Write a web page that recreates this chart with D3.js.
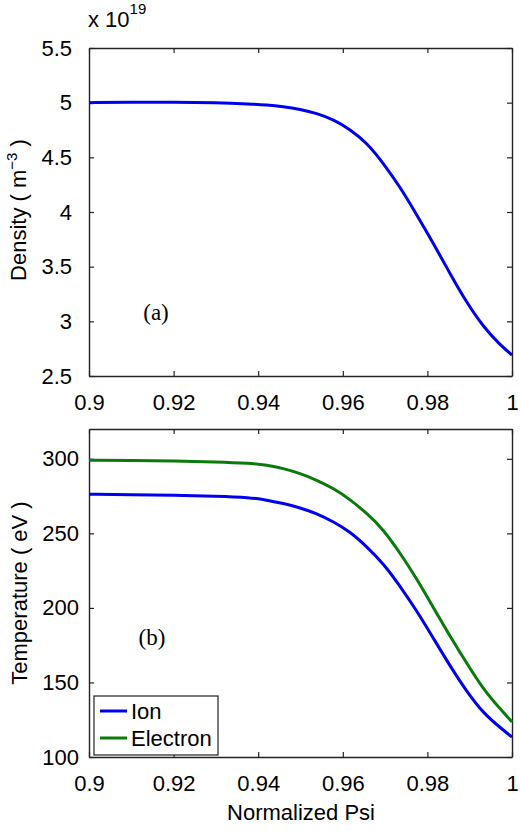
<!DOCTYPE html>
<html>
<head>
<meta charset="utf-8">
<script src="https://cdn.jsdelivr.net/npm/d3@7"></script>
<style>
  body { margin: 0; background: #fff; }
  svg text { font-family: "Liberation Sans", Arial, sans-serif; fill: #000; }
</style>
</head>
<body>
<div id="chart"></div>
<script>
const w = 520
const h = 831

// shared x values (normalized psi)
const psi = [0.90, 0.91, 0.92, 0.93, 0.9381, 0.9420, 0.9459, 0.9499, 0.9538, 0.9578, 0.9617, 0.9657,
    0.9696, 0.9735, 0.9775, 0.9814, 0.9853, 0.9893, 0.9932, 0.9972, 1.0]

// panel (a): density, in units of 1e19 m^-3
const density = [5.0, 5.003, 5.005, 5.0, 4.988, 4.979, 4.963, 4.939, 4.903, 4.845, 4.757, 4.632,
    4.445, 4.231, 3.973, 3.714, 3.44, 3.17, 2.951, 2.784, 2.692]

// panel (b): temperatures in eV
const ionT = [276.2, 276.0, 275.6, 275.0, 274.1, 272.3, 270.1, 267.2, 263.4, 257.8, 251.1, 241.0,
    229.8, 214.8, 198.0, 179.7, 161.3, 143.9, 129.5, 119.7, 113.4]
const electronT = [299.0, 299.0, 298.6, 298.0, 297.0, 295.8, 293.6, 290.2, 285.8, 280.2, 272.8, 263.4,
    252.6, 237.0, 219.5, 200.2, 181.3, 162.9, 145.5, 132.2, 123.5]

const xTicks = [0.9, 0.92, 0.94, 0.96, 0.98, 1]
const densTicks = [2.5, 3, 3.5, 4, 4.5, 5, 5.5]
const tempTicks = [100, 150, 200, 250, 300]

const blue = '#0000f0'
const green = '#0a7a0a'
const fmt = d3.format('~g')

const svg = d3.select('#chart')
    .append('svg')
    .attr('width', w)
    .attr('height', h)

const left = 89, right = 512

function drawPanel(top, bottom, yDomain, yTicks, yPad, series) {
    const x = d3.scaleLinear().domain([0.9, 1]).range([left, right])
    const y = d3.scaleLinear().domain(yDomain).range([bottom, top])
    const g = svg.append('g')

    const styleAxis = sel => {
        sel.select('.domain').attr('stroke', '#222').attr('stroke-width', 1.4)
        sel.selectAll('.tick line').attr('stroke', '#222').attr('stroke-width', 1.2)
        sel.selectAll('text').style('font-size', '22px').attr('fill', '#000')
    }

    g.append('g')
        .attr('transform', `translate(0,${bottom})`)
        .call(d3.axisBottom(x).tickValues(xTicks).tickFormat(fmt).tickSizeInner(-5).tickSizeOuter(0).tickPadding(18))
        .call(styleAxis)
    g.append('g')
        .attr('transform', `translate(0,${top})`)
        .call(d3.axisTop(x).tickValues(xTicks).tickFormat('').tickSizeInner(-5).tickSizeOuter(0))
        .call(styleAxis)
    g.append('g')
        .attr('transform', `translate(${left},0)`)
        .call(d3.axisLeft(y).tickValues(yTicks).tickFormat(fmt).tickSizeInner(-5).tickSizeOuter(0).tickPadding(yPad))
        .call(styleAxis)
    g.append('g')
        .attr('transform', `translate(${right},0)`)
        .call(d3.axisRight(y).tickValues(yTicks).tickFormat('').tickSizeInner(-5).tickSizeOuter(0))
        .call(styleAxis)

    series.forEach(s => {
        const line = d3.line()
            .x((d, i) => x(psi[i]))
            .y(d => y(d))
            .curve(d3.curveBasis)
        g.append('path')
            .datum(s.values)
            .attr('d', line)
            .attr('fill', 'none')
            .attr('stroke', s.color)
            .attr('stroke-width', 3)
    })
    return { x, y }
}

drawPanel(48, 376, [2.5, 5.5], densTicks, 17, [
    { values: density, color: blue }
])
drawPanel(429, 757, [100, 320], tempTicks, 10, [
    { values: ionT, color: blue },
    { values: electronT, color: green }
])

// exponent label
const ex = svg.append('text').attr('x', 88).attr('y', 27).style('font-size', '22px')
ex.append('tspan').text('x 10')
ex.append('tspan').attr('dy', -13).style('font-size', '15px').text('19')

// y labels
const yl1 = svg.append('text')
    .attr('transform', 'translate(26,210) rotate(-90)')
    .attr('text-anchor', 'middle')
    .style('font-size', '22px')
yl1.append('tspan').text('Density ( m')
yl1.append('tspan').attr('dy', -9).style('font-size', '15px').text('\u22123')
yl1.append('tspan').attr('dy', 9).text(' )')

svg.append('text')
    .attr('transform', 'translate(27,593) rotate(-90)')
    .attr('text-anchor', 'middle')
    .style('font-size', '22px')
    .text('Temperature ( eV )')

svg.append('text')
    .attr('x', 301).attr('y', 820)
    .attr('text-anchor', 'middle')
    .style('font-size', '22px')
    .text('Normalized Psi')

// panel tags
svg.append('text').attr('x', 156).attr('y', 320).attr('text-anchor', 'middle')
    .style('font-family', '"Liberation Serif", "Times New Roman", serif').style('font-size', '23px').text('(a)')
svg.append('text').attr('x', 152).attr('y', 645).attr('text-anchor', 'middle')
    .style('font-family', '"Liberation Serif", "Times New Roman", serif').style('font-size', '23px').text('(b)')

// legend
const legend = svg.append('g')
legend.append('rect')
    .attr('x', 94).attr('y', 696).attr('width', 124).attr('height', 59)
    .attr('fill', '#fff').attr('stroke', '#222').attr('stroke-width', 1.2)
const items = [{ name: 'Ion', color: blue }, { name: 'Electron', color: green }]
items.forEach((it, i) => {
    const yy = 711 + i * 27
    legend.append('line').attr('x1', 100).attr('x2', 127).attr('y1', yy).attr('y2', yy)
        .attr('stroke', it.color).attr('stroke-width', 3)
    legend.append('text').attr('x', 131).attr('y', yy).attr('dy', '0.36em')
        .style('font-size', '22px').text(it.name)
})
</script>
</body>
</html>
